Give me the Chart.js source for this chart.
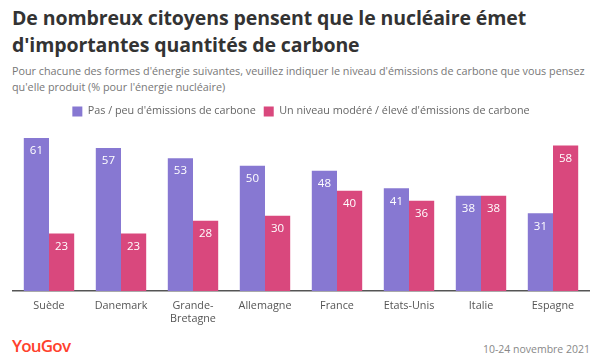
<!DOCTYPE html>
<html><head><meta charset="utf-8">
<script src="https://cdn.jsdelivr.net/npm/chart.js@4"></script>
<style>
html,body{margin:0;padding:0;background:#fff;width:602px;height:360px;overflow:hidden;font-family:"Open Sans",sans-serif;}
#title{position:absolute;left:12px;top:4px;font-size:19.5px;font-weight:700;color:#333;line-height:27px;letter-spacing:-0.1px;}
#sub{position:absolute;left:12px;top:63px;font-size:10.8px;color:#777;line-height:16px;width:590px;}
#wrap{position:absolute;left:0;top:98px;width:602px;height:227px;}
#logo{position:absolute;left:12px;top:334px;font-size:17px;font-weight:600;color:#ff412c;letter-spacing:-0.8px;}
#date{position:absolute;right:12px;top:342px;font-size:10.5px;color:#888;}
</style></head><body>
<div id="title">De nombreux citoyens pensent que le nucléaire émet<br>d'importantes quantités de carbone</div>
<div id="sub">Pour chacune des formes d'énergie suivantes, veuillez indiquer le niveau d'émissions de carbone que vous pensez<br>qu'elle produit (% pour l'énergie nucléaire)</div>
<div id="wrap"><canvas id="c"></canvas></div>
<div id="logo">YouGov</div>
<div id="date">10-24 novembre 2021</div>
<script>
const categories = ["Suède","Danemark",["Grande-","Bretagne"],"Allemagne","France","Etats-Unis","Italie","Espagne"];
const seriesNames = ["Pas / peu d'émissions de carbone","Un niveau modéré / élevé d'émissions de carbone"];
const lowValues = [61,57,53,50,48,41,38,31];
const highValues = [23,23,28,30,40,36,38,58];
const colors = ["#8778d2","#d9487d"];

const labelPlugin = {
  id:'barLabels',
  afterDatasetsDraw(chart){
    const ctx = chart.ctx;
    ctx.save();
    ctx.fillStyle = '#fff';
    ctx.font = '11.5px "Open Sans", sans-serif';
    ctx.textAlign = 'center';
    ctx.textBaseline = 'middle';
    chart.data.datasets.forEach((ds,i)=>{
      chart.getDatasetMeta(i).data.forEach((bar,j)=>{
        ctx.fillText(String(ds.data[j]), bar.x, bar.y + 13);
      });
    });
    ctx.restore();
  }
};

new Chart(document.getElementById('c'), {
  type:'bar',
  data:{
    labels:categories,
    datasets:[
      {label:seriesNames[0], data:lowValues, backgroundColor:colors[0], borderWidth:0},
      {label:seriesNames[1], data:highValues, backgroundColor:colors[1], borderWidth:0}
    ]
  },
  options:{
    responsive:true, maintainAspectRatio:false, animation:false,
    layout:{padding:{left:13,right:13,top:0,bottom:0}},
    plugins:{
      legend:{position:'top',labels:{boxWidth:10,boxHeight:10,color:'#666',font:{size:10.8,family:'"Open Sans", sans-serif'},padding:8}},
      tooltip:{enabled:false}
    },
    scales:{
      x:{grid:{display:false},border:{display:true,color:'#555',width:1.5},
         ticks:{color:'#555',font:{size:10.8,family:'"Open Sans", sans-serif'},padding:0,maxRotation:0,autoSkip:false}},
      y:{display:false,min:0,max:65.5}
    },
    datasets:{bar:{categoryPercentage:0.7,barPercentage:1}}
  },
  plugins:[labelPlugin]
});
</script>
</body></html>
